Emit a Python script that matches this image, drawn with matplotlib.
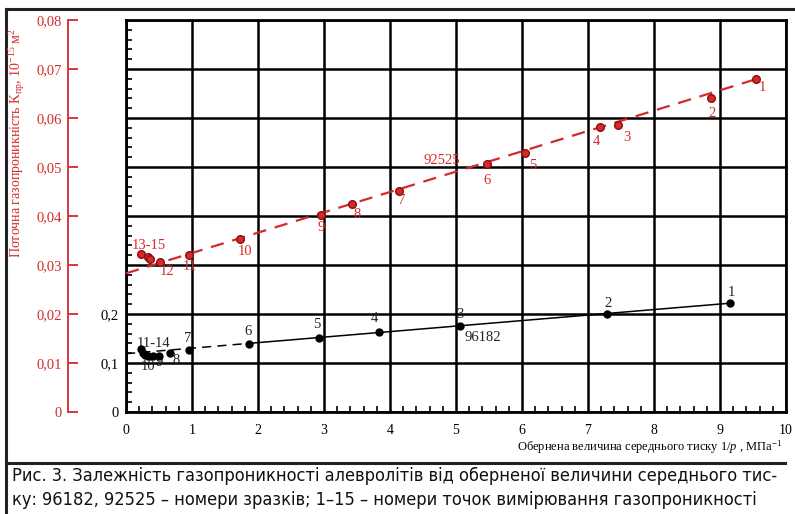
import numpy as np
import matplotlib.pyplot as plt
from matplotlib.lines import Line2D
from matplotlib.ticker import MultipleLocator

# ------------------------------- DATA -------------------------------#
# sample 92525 (red scale, 10^-15 m^2)
red_x = [9.54, 8.86, 7.46, 7.18, 6.04, 5.47, 4.14, 3.42, 2.96, 1.73, 0.96, 0.52, 0.23, 0.34, 0.37]
red_y = [0.0679, 0.0640, 0.0586, 0.0581, 0.0528, 0.0506, 0.0452, 0.0424, 0.0403,
         0.0354, 0.0320, 0.0306, 0.0322, 0.0316, 0.0312]
red_fit_x = [0.0, 9.54]
red_fit_y = [0.0283, 0.0679]

# sample 96182 (black scale)
blk_x = [9.15, 7.29, 5.06, 3.84, 2.92, 1.86, 0.96, 0.67, 0.50, 0.41, 0.22, 0.25, 0.29, 0.34]
blk_y = [0.222, 0.200, 0.1755, 0.164, 0.152, 0.139, 0.127, 0.120, 0.114, 0.114,
         0.128, 0.121, 0.117, 0.115]
blk_dash_x = [0.0, 1.86]
blk_dash_y = [0.119, 0.140]
blk_solid_x = [1.86, 9.15]
blk_solid_y = [0.140, 0.222]

# point labels: (text, x, y) in data coords
red_labels = [("1", 9.65, 0.0663), ("2", 8.88, 0.0609), ("3", 7.59, 0.0561), ("4", 7.13, 0.0553),
              ("5", 6.17, 0.0504), ("6", 5.47, 0.0472), ("92525", 4.78, 0.0513), ("7", 4.18, 0.0431),
              ("8", 3.50, 0.0404), ("9", 2.95, 0.0377), ("10", 1.80, 0.0327), ("11", 0.96, 0.0296),
              ("12", 0.62, 0.0286), ("13-15", 0.35, 0.0340)]
blk_labels = [("1", 9.17, 0.243), ("2", 7.30, 0.221), ("3", 5.06, 0.200), ("96182", 5.40, 0.153),
              ("4", 3.76, 0.190), ("5", 2.89, 0.179), ("6", 1.85, 0.165), ("7", 0.93, 0.149),
              ("8", 0.76, 0.106), ("9", 0.50, 0.100), ("10", 0.33, 0.092), ("11-14", 0.41, 0.139)]

xticks = np.arange(0, 11)
red_ticks = [0, 0.01, 0.02, 0.03, 0.04, 0.05, 0.06, 0.07, 0.08]
blk_ticks = [0, 0.1, 0.2]

RED = "#d42a2a"
SERIF = "Liberation Serif"
plt.rcParams["mathtext.fontset"] = "custom"
plt.rcParams["mathtext.rm"] = SERIF
plt.rcParams["mathtext.it"] = SERIF + ":italic"

# ------------------------------- PLOT -------------------------------#
W, H = 795, 514
fig = plt.figure(figsize=(W / 100, H / 100), dpi=100)
L, R, B, T = 126, 786, 412, 20
ax = fig.add_axes([L / W, (H - B) / H, (R - L) / W, (B - T) / H])

ax.set_xlim(0, 10)
ax.set_ylim(0, 0.8)
ax.set_xticks(xticks)
ax.set_xticklabels([str(v) for v in xticks], family=SERIF, fontsize=10)
ax.set_yticks(np.arange(0, 0.81, 0.1))
ax.set_yticklabels(["0", "0,1", "0,2"] + [""] * 6, family=SERIF, fontsize=10.5)
ax.xaxis.set_minor_locator(MultipleLocator(0.2))
ax.yaxis.set_minor_locator(MultipleLocator(0.02))
ax.tick_params(which="major", length=0)
ax.tick_params(axis="y", which="major", pad=5)
ax.tick_params(axis="x", which="major", pad=9)
ax.tick_params(which="minor", direction="in", length=4, width=1.2, color="black")
ax.grid(True, which="major", color="black", lw=1.8)
for s in ax.spines.values():
    s.set_linewidth(2.0)
ax.set_axisbelow(True)

ax.plot(blk_dash_x, blk_dash_y, color="black", lw=1.1, ls=(0, (6, 4)), zorder=3)
ax.plot(blk_solid_x, blk_solid_y, color="black", lw=1.1, zorder=3)
ax.plot(blk_x, blk_y, "o", color="black", ms=5, zorder=4)
for txt, x, y in blk_labels:
    ax.text(x, y, txt, ha="center", va="center", family=SERIF, fontsize=10.5, color="#222222")

# red scale on a separate spine further left
ax2 = ax.twinx()
ax2.set_ylim(0, 0.08)
ax2.yaxis.set_ticks_position("left")
ax2.spines["left"].set_position(("outward", 42))
ax2.spines["left"].set_color(RED)
ax2.spines["left"].set_linewidth(1.3)
for k in ("right", "top", "bottom"):
    ax2.spines[k].set_visible(False)
ax2.set_yticks(red_ticks)
ax2.set_yticklabels(["0"] + ["0,0%d" % i for i in range(1, 9)], family=SERIF, fontsize=10.5, color=RED)
ax2.tick_params(axis="y", direction="in", length=7, width=1.3, color=RED, pad=4)

ax2.plot(red_fit_x, red_fit_y, color=RED, lw=1.6, ls=(0, (6, 4)), zorder=3)
ax2.plot(red_x, red_y, "o", color=RED, mec="#8a1010", ms=5.5, zorder=4)
for txt, x, y in red_labels:
    ax2.text(x, y, txt, ha="center", va="center", family=SERIF, fontsize=10.5, color=RED)

fig.text(17 / W, 1 - 143 / H, "Поточна газопроникність K$_{\\rm пр}$, 10$^{-15}$ м$^{2}$",
         rotation=90, ha="center", va="center", family=SERIF, fontsize=10, color=RED)
fig.text(782 / W, 1 - 447 / H, "Обернена величина середнього тиску 1/$p$ , МПа$^{-1}$",
         ha="right", va="center", family=SERIF, fontsize=9)

# frame and caption
fig.add_artist(Line2D([6 / W, 6 / W], [0, 1 - 9 / H], color="#222222", lw=2.2))
fig.add_artist(Line2D([6 / W, 1], [1 - 9 / H, 1 - 9 / H], color="#222222", lw=2.2))
fig.add_artist(Line2D([6 / W, 785 / W], [1 - 463 / H, 1 - 463 / H], color="#222222", lw=2.2))
cap1 = "Рис. 3. Залежність газопроникності алевролітів від оберненої величини середнього тис-"
cap2 = "ку: 96182, 92525 – номери зразків; 1–15 – номери точок вимірювання газопроникності"
t1 = fig.text(12 / W, 1 - 476 / H, cap1, ha="left", va="center", family="DejaVu Sans",
              fontstretch="condensed", fontsize=12, color="#111111")
t2 = fig.text(12 / W, 1 - 500 / H, cap2, ha="left", va="center", family="DejaVu Sans",
              fontstretch="condensed", fontsize=12, color="#111111")
# fit the caption's first line to the reference width
fig.canvas.draw()
w1 = t1.get_window_extent().width
size = 12 * 768 / w1
t1.set_fontsize(size)
t2.set_fontsize(size)

fig.savefig("out.png", dpi=100)
